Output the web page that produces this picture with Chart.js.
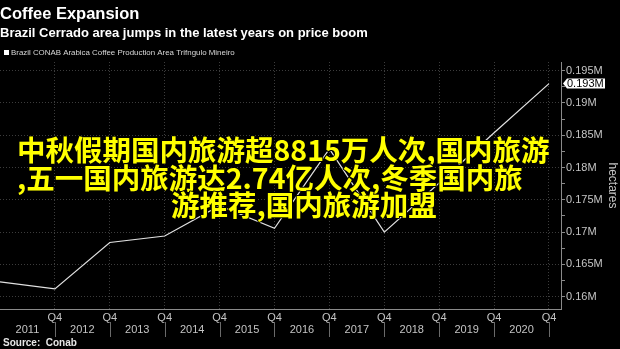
<!DOCTYPE html>
<html>
<head>
<meta charset="utf-8">
<script src="https://cdn.jsdelivr.net/npm/chart.js@4"></script>
<style>
  html, body { margin: 0; padding: 0; background: #000; }
  #wrap { width: 620px; height: 349px; }
</style>
</head>
<body>
<div id="wrap"><canvas id="chart"></canvas></div>
<script>
// Trifngulo Mineiro arabica area, million hectares, Q4 of each year
const years = [2010, 2011, 2012, 2013, 2014, 2015, 2016, 2017, 2018, 2019, 2020];
const areaMha = [0.1623, 0.1612, 0.1684, 0.1694, 0.1741, 0.1706, 0.1829, 0.1700, 0.1776, 0.1854, 0.1930];
const quarterLabel = 'Q4';
const yearLabels = ['2011', '2012', '2013', '2014', '2015', '2016', '2017', '2018', '2019', '2020'];
const yTicks = [0.16, 0.1625, 0.165, 0.1675, 0.17, 0.1725, 0.175, 0.1775, 0.18, 0.1825, 0.185, 0.1875, 0.19, 0.1925, 0.195];
const seriesName = 'Brazil CONAB Arabica Coffee Production Area Trifngulo Mineiro';
const bannerLines = [
  '中秋假期国内旅游超8815万人次,国内旅游',
  ',五一国内旅游达2.74亿人次,冬季国内旅',
  '游推荐,国内旅游加盟'
];

const SANS = '"Liberation Sans", Arial, sans-serif';
const GRID = '#3c3c3c';
const AXIS = '#8a8a8a';
const LABEL = '#c4c4c4';

const isMajor = v => Math.abs(v * 200 - Math.round(v * 200)) < 1e-6;
const fmtM = v => parseFloat(v.toFixed(4)) + 'M';

// legend swatch, year separators, last value badge, source line and the banner text
const extras = {
  id: 'extras',
  afterDraw(chart) {
    const ctx = chart.ctx;
    const x = chart.scales.x;
    const y = chart.scales.y;
    ctx.save();
    ctx.textBaseline = 'middle';
    ctx.textAlign = 'left';

    ctx.fillStyle = '#fff';
    ctx.fillRect(4, 50, 5, 5);
    ctx.fillStyle = '#d8d8d8';
    ctx.font = '7.9px ' + SANS;
    ctx.fillText(chart.data.datasets[0].label, 11, 52.5);

    ctx.strokeStyle = '#6a6a6a';
    ctx.lineWidth = 1;
    years.slice(1).forEach(v => {
      const px = Math.round(x.getPixelForValue(v)) + 0.5;
      ctx.beginPath();
      ctx.moveTo(px, 322);
      ctx.lineTo(px, 337);
      ctx.stroke();
    });

    const last = areaMha[areaMha.length - 1];
    const by = y.getPixelForValue(last);
    const bx = y.left + 2;
    ctx.fillStyle = '#fff';
    ctx.beginPath();
    ctx.moveTo(bx, by);
    ctx.lineTo(bx + 4, by - 5);
    ctx.lineTo(bx + 42, by - 5);
    ctx.lineTo(bx + 42, by + 5);
    ctx.lineTo(bx + 4, by + 5);
    ctx.closePath();
    ctx.fill();
    ctx.fillStyle = '#000';
    ctx.font = '11px ' + SANS;
    ctx.fillText(fmtM(last), bx + 4, by + 0.5);

    ctx.fillStyle = '#e6e6e6';
    ctx.font = 'bold 10px ' + SANS;
    ctx.fillText('Source:  Conab', 3, 343);

    ctx.font = 'bold 28.5px "Noto Sans CJK SC"';
    ctx.lineJoin = 'round';
    ctx.lineWidth = 2;
    ctx.strokeStyle = '#000';
    ctx.fillStyle = '#ffff00';
    const pos = [[17, 150], [17, 178], [171, 205]];
    bannerLines.forEach((t, i) => {
      ctx.strokeText(t, pos[i][0], pos[i][1]);
      ctx.fillText(t, pos[i][0], pos[i][1]);
    });
    ctx.restore();
  }
};

new Chart(document.getElementById('chart'), {
  type: 'line',
  data: {
    datasets: [{
      label: seriesName,
      data: years.map((yr, i) => ({ x: yr, y: areaMha[i] })),
      borderColor: '#e2e2e2',
      borderWidth: 1.2,
      pointRadius: 0,
      tension: 0
    }]
  },
  options: {
    responsive: true,
    maintainAspectRatio: false,
    animation: false,
    events: [],
    layout: { padding: { left: 0, right: 0, top: 0, bottom: 12 } },
    plugins: {
      title: {
        display: true, text: 'Coffee Expansion', align: 'start', color: '#fff',
        font: { family: SANS, size: 16.5, weight: 'bold', lineHeight: 1.2 },
        padding: { top: 4.5, bottom: 0 }
      },
      subtitle: {
        display: true, text: 'Brazil Cerrado area jumps in the latest years on price boom',
        align: 'start', color: '#fff',
        font: { family: SANS, size: 13, weight: 'bold', lineHeight: 1.2 },
        padding: { top: 1, bottom: 21.1 }
      },
      legend: { display: false },
      tooltip: { enabled: false }
    },
    scales: {
      x: {
        type: 'linear', position: 'bottom', min: 2010, max: 2020.2186,
        afterBuildTicks: s => { s.ticks = years.slice(1).map(v => ({ value: v })); },
        afterFit: s => { s.height = 14; },
        ticks: {
          callback: () => quarterLabel, color: LABEL, autoSkip: false, maxRotation: 0,
          padding: 2, font: { family: SANS, size: 11 }
        },
        grid: { color: GRID, drawTicks: false },
        border: { display: true, color: AXIS, dash: [1, 2] }
      },
      x2: {
        type: 'linear', position: 'bottom', min: 2010, max: 2020.2186,
        afterBuildTicks: s => { s.ticks = yearLabels.map((_, i) => ({ value: years[i] + 0.5 })); },
        afterFit: s => { s.height = 14; },
        ticks: {
          callback: (v, i) => yearLabels[i], color: LABEL, autoSkip: false, maxRotation: 0,
          padding: 0, font: { family: SANS, size: 11 }
        },
        grid: { display: false, drawTicks: false, tickLength: 0 },
        border: { display: false }
      },
      y: {
        position: 'right', min: 0.158095, max: 0.196347,
        afterBuildTicks: s => { s.ticks = yTicks.map(v => ({ value: v })); },
        afterFit: s => { s.width = 59; },
        ticks: {
          callback: v => isMajor(v) ? fmtM(v) : '', color: LABEL, autoSkip: false,
          padding: 1, font: { family: SANS, size: 11 }
        },
        grid: {
          color: c => isMajor(c.tick.value) ? GRID : 'transparent',
          tickColor: AXIS, tickLength: 4
        },
        border: { display: true, color: AXIS, dash: [1, 2] },
        title: {
          display: true, text: 'hectares', color: LABEL,
          font: { family: SANS, size: 12 }, padding: { top: 0, bottom: 3 }
        }
      }
    }
  },
  plugins: [extras]
});
</script>
</body>
</html>
